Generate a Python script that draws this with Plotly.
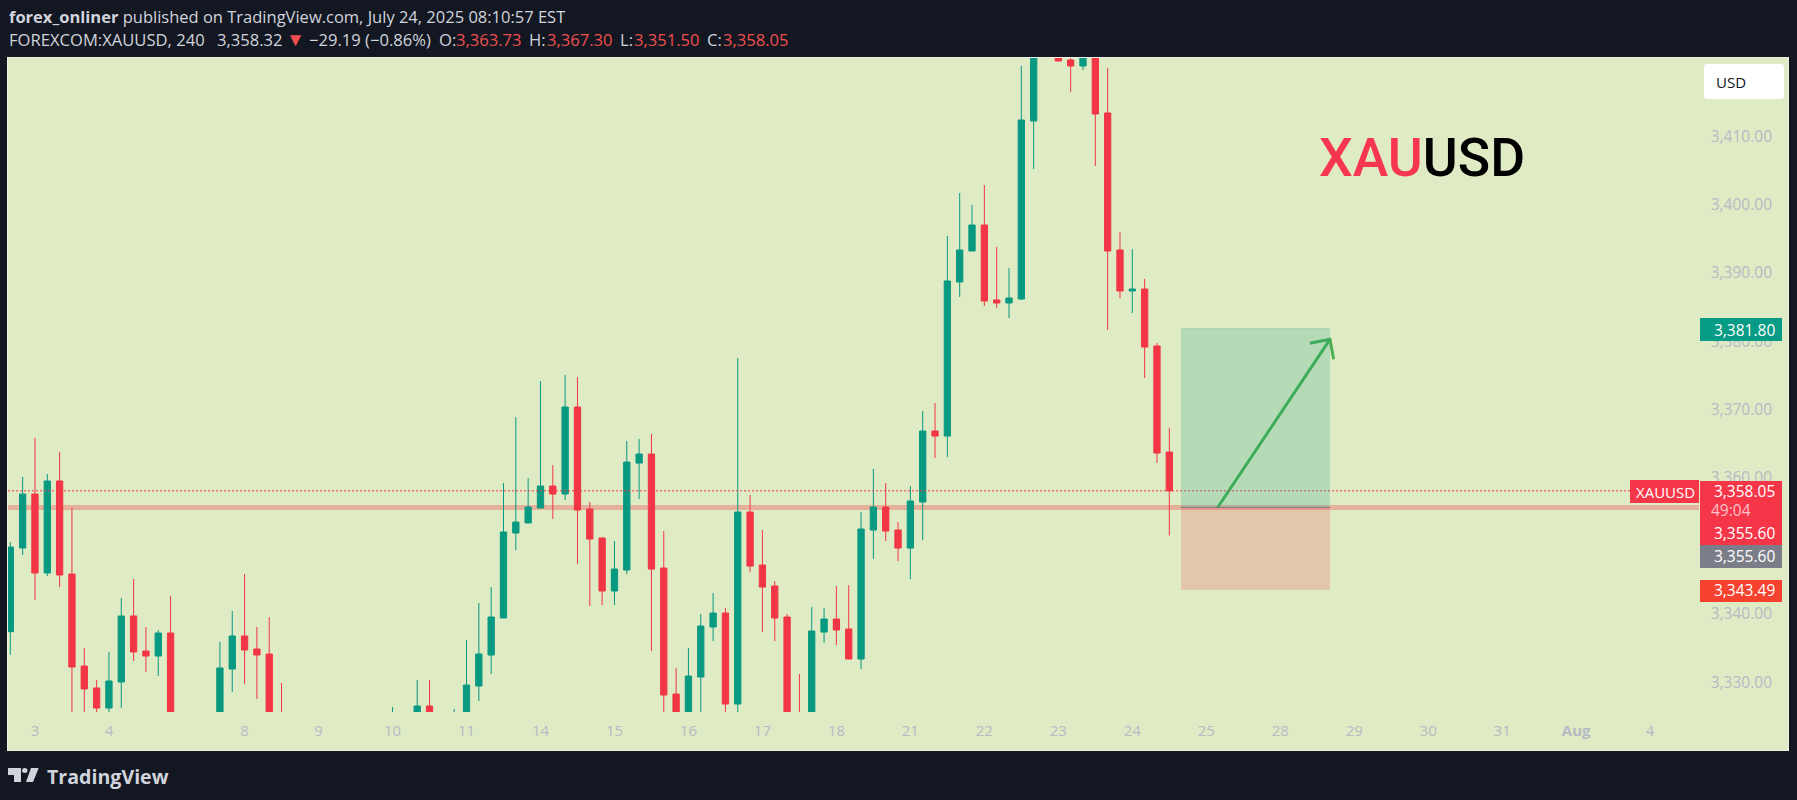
import plotly.graph_objects as go

# 4h bars of FOREXCOM:XAUUSD, bars that sit entirely below the pane are left out
bar_index = [0, 1, 2, 3, 4, 5, 6, 7, 8, 9, 10, 11, 12, 13,
             17, 18, 19, 20, 21, 22, 31, 33, 34,
             36, 37, 38, 39, 40, 41, 42, 43, 44, 45, 46, 47, 48, 49, 50, 51, 52, 53, 54, 55, 56, 57, 58, 59, 60,
             61, 62, 63, 64, 65, 66, 67, 68, 69, 70, 71, 72, 73, 74, 75, 76, 77, 78, 79, 80, 81, 82, 83, 84,
             85, 86, 87, 88, 89, 90, 91, 92, 93, 94]
opens = [3337.4, 3349.67, 3357.58, 3346.0, 3359.49, 3345.85, 3332.36, 3329.14, 3326.2, 3330.02, 3339.7, 3334.56, 3333.83, 3337.2,
         3322, 3331.92, 3336.76, 3334.86, 3334.12, 3324, 3322, 3322, 3326.5,
         3322, 3322, 3329.43, 3333.97, 3339.4, 3351.86, 3353.33, 3355.53, 3358.75, 3357.58, 3370.34, 3355.38, 3351.13, 3343.36, 3346.44, 3362.12, 3363.44, 3346.73, 3328.25, 3322, 3330.75, 3338.08, 3340.13, 3326.79, 3354.94,
         3347.17, 3344.09, 3339.54, 3324, 3322, 3337.34, 3339.25, 3337.79, 3333.39, 3352.3, 3355.67, 3352.3, 3349.66, 3356.41, 3366.82, 3366.08, 3388.67, 3393.21, 3397.02, 3386.03, 3385.59, 3386.17, 3412.27, 3423,
         3423, 3421.22, 3420.34, 3424, 3413.45, 3393.36, 3387.35, 3387.64, 3379.28, 3363.73]
highs = [3350.55, 3360.08, 3365.8, 3360.52, 3363.74, 3355.53, 3335.0, 3330.31, 3334.42, 3342.34, 3345.12, 3338.08, 3337.64, 3342.63,
         3335.88, 3340.43, 3345.85, 3338.08, 3339.55, 3329.87, 3326.35, 3330.31, 3330.31,
         3326.05, 3336.17, 3341.6, 3343.94, 3359.19, 3368.87, 3359.92, 3374.15, 3361.83, 3375.03, 3374.73, 3356.41, 3351.27, 3350.69, 3365.35, 3365.64, 3366.38, 3352.15, 3332.07, 3334.98, 3339.98, 3343.06, 3340.86, 3377.52, 3357.43,
         3352.3, 3344.82, 3339.98, 3331.19, 3341.01, 3340.86, 3344.09, 3344.24, 3354.94, 3361.25, 3359.19, 3353.47, 3358.75, 3369.75, 3370.92, 3395.41, 3401.72, 3399.96, 3402.89, 3393.8, 3390.72, 3420.34, 3426, 3432,
         3425, 3421.6, 3424, 3426, 3420.04, 3396.0, 3393.5, 3389.1, 3379.72, 3367.3]
lows = [3334.0, 3348.64, 3342.04, 3345.56, 3343.95, 3322, 3324, 3325, 3325, 3326.2, 3333.1, 3331.48, 3330.9, 3320,
        3320, 3328.55, 3329.72, 3327.53, 3320, 3320, 3320, 3320, 3320,
        3320, 3320, 3327.23, 3331.19, 3339.4, 3349.37, 3353.33, 3355.53, 3353.91, 3356.7, 3347.3, 3341.16, 3341.3, 3341.3, 3345.85, 3356.85, 3334.56, 3324, 3322, 3322, 3324, 3336.02, 3324, 3324, 3346.14,
        3337.34, 3336.02, 3322, 3320, 3320, 3335.73, 3335.44, 3333.39, 3331.92, 3348.05, 3350.69, 3347.75, 3345.1, 3350.83, 3362.86, 3363.0, 3386.47, 3393.21, 3385.15, 3384.85, 3383.39, 3386.03, 3405.23, 3422,
        3421.07, 3416.53, 3419.75, 3405.68, 3381.63, 3386.32, 3384.12, 3374.59, 3362.12, 3351.5]
closes = [3349.8, 3357.58, 3346.0, 3359.49, 3345.71, 3332.22, 3329.0, 3326.2, 3330.17, 3339.7, 3334.42, 3333.83, 3337.2, 3322,
          3332.07, 3336.76, 3334.71, 3333.98, 3322, 3322, 3324, 3326.5, 3322,
          3324, 3329.57, 3334.12, 3339.54, 3352.01, 3353.47, 3355.67, 3358.75, 3357.58, 3370.34, 3355.23, 3350.98, 3343.36, 3346.58, 3362.27, 3363.44, 3346.58, 3328.11, 3322, 3330.89, 3338.22, 3340.13, 3326.79, 3354.94, 3347.02,
          3343.94, 3339.4, 3322, 3322, 3337.49, 3339.25, 3337.64, 3333.39, 3352.45, 3355.67, 3352.15, 3349.66, 3356.55, 3366.82, 3366.08, 3388.81, 3393.36, 3397.02, 3385.88, 3385.59, 3386.32, 3412.42, 3430, 3430,
          3421.07, 3420.34, 3423, 3413.3, 3393.21, 3387.35, 3387.64, 3379.13, 3363.59, 3358.05]

date_ticks = [2, 8, 19, 25, 31, 37, 43, 49, 55, 61, 67, 73, 79, 85, 91, 97, 103, 109, 115, 121, 127, 133]
date_labels = ['3', '4', '8', '9', '10', '11', '14', '15', '16', '17', '18', '21', '22', '23', '24', '25', '28',
               '29', '30', '31', '<b>Aug</b>', '4']
price_ticks = [3330, 3340, 3350, 3360, 3370, 3380, 3390, 3400, 3410, 3420]

last_price = 3358.05
level_price = 3355.60
target_price = 3381.80
stop_price = 3343.49

# long position tool and the arrow drawn on it (bar number, price)
tool_bars = [94.95, 107.03]
arrow_x = [97.92, 107.03, None, 105.41, 107.03, 107.33]
arrow_y = [3355.6, 3380.26, None, 3379.68, 3380.26, 3377.33]

BG = '#131722'
PANE = '#dfebc4'
GREEN = '#089981'
RED = '#f23645'
TEXT = '#d1d4dc'
QUOTE_RED = '#ef4f4f'
AXIS_TEXT = '#b6bac6'
FONT = 'Open Sans'


# pixel position on the page -> paper coordinate of the plot area
def px_x(x):
    return (x - 8) / 1780


def px_y(y):
    return (712 - y) / 654


def box(x0, y0, x1, y1, color, layer='above'):
    return dict(type='rect', xref='paper', yref='paper', x0=px_x(x0), x1=px_x(x1), y0=px_y(y0), y1=px_y(y1),
                fillcolor=color, line_width=0, layer=layer)


def poly(points, color):
    path = 'M' + ' L'.join(f'{px_x(x):.5f},{px_y(y):.5f}' for x, y in points) + ' Z'
    return dict(type='path', xref='paper', yref='paper', path=path, fillcolor=color, line_width=0, layer='above')


def label(x, y, text, size=15.5, color='white', anchor='left', family=FONT, **kw):
    return dict(xref='paper', yref='paper', x=px_x(x), y=px_y(y), text=text, showarrow=False, xanchor=anchor,
                yanchor='middle', font=dict(family=family, size=size, color=color, **kw), borderpad=0, borderwidth=0)


fig = go.Figure()

fig.add_trace(go.Candlestick(
    x=bar_index, open=opens, high=highs, low=lows, close=closes,
    increasing=dict(line=dict(color=GREEN, width=1), fillcolor=GREEN),
    decreasing=dict(line=dict(color=RED, width=1), fillcolor=RED),
    whiskerwidth=0,
    hoverinfo='skip',
    showlegend=False,
))

fig.add_trace(go.Scatter(x=arrow_x, y=arrow_y, mode='lines', line=dict(color='#4caf50', width=3),
                         hoverinfo='skip', showlegend=False))

# currency button, corners rounded by hand
usd_button = ('M{a},{t} L{b},{t} Q{r},{t} {r},{u} L{r},{v} Q{r},{d} {b},{d} L{a},{d} Q{l},{d} {l},{v} '
              'L{l},{u} Q{l},{t} {a},{t} Z').format(
    l=px_x(1704), a=px_x(1707), b=px_x(1781), r=px_x(1784),
    t=px_y(64), u=px_y(67), v=px_y(96), d=px_y(99))

shapes = [
    # pane, the white edge is a slightly bigger box behind it
    box(7, 57, 1789, 751, '#eef0e8', 'below'),
    box(8, 58, 1788, 750, PANE, 'below'),
    # support line and the last price line
    dict(type='line', xref='paper', yref='y', x0=0, x1=px_x(1699), y0=level_price, y1=level_price,
         line=dict(color='#e5b19b', width=5), layer='below'),
    dict(type='line', xref='paper', yref='y', x0=0, x1=px_x(1630), y0=last_price, y1=last_price,
         line=dict(color=RED, width=1, dash='2px,2px'), layer='above'),
    # long position tool
    dict(type='rect', xref='x', yref='y', x0=tool_bars[0], x1=tool_bars[1], y0=level_price, y1=target_price,
         fillcolor='rgba(8,153,129,0.2)', line_width=0, layer='above'),
    dict(type='rect', xref='x', yref='y', x0=tool_bars[0], x1=tool_bars[1], y0=stop_price, y1=level_price,
         fillcolor='rgba(242,54,69,0.2)', line_width=0, layer='above'),
    dict(type='line', xref='x', yref='y', x0=tool_bars[0], x1=tool_bars[1], y0=level_price, y1=level_price,
         line=dict(color='#7b7d88', width=1), layer='above'),
    dict(type='line', xref='x', yref='y', x0=tool_bars[0], x1=tool_bars[1], y0=target_price, y1=target_price,
         line=dict(color='#9fd0a8', width=1), layer='above'),
    # price tags
    box(1700, 318, 1782, 341, '#069b85'),
    box(1630, 480, 1699, 503, '#f53649'),
    box(1700, 481, 1782, 545, '#f53649'),
    box(1700, 545, 1782, 568, '#7b7d88'),
    box(1700, 580, 1782, 602, '#f7412f'),
    dict(type='path', xref='paper', yref='paper', path=usd_button, fillcolor='white', line_width=0, layer='above'),
    # TradingView mark
    poly([(8, 768), (21, 768), (21, 782), (14, 782), (14, 775), (8, 775)], TEXT),
    poly([(31, 768), (38.7, 768), (33, 782), (26, 782)], TEXT),
    dict(type='circle', xref='paper', yref='paper', x0=px_x(22), x1=px_x(27.5), y0=px_y(768), y1=px_y(773),
         fillcolor=TEXT, line_width=0, layer='above'),
]

annotations = [
    label(8.5, 17, '<b>forex_onliner</b> published on TradingView.com, July 24, 2025 08:10:57 EST', 16.5, TEXT),
    label(8.5, 39.5, 'FOREXCOM:XAUUSD, 240', 16.6, TEXT),
    label(217, 39.5, '3,358.32', 16.6, TEXT),
    label(286, 39.5, '▼', 19, QUOTE_RED),
    label(309, 39.5, '−29.19 (−0.86%)', 16.6, TEXT),
    label(439, 39.5, 'O:', 16.6, TEXT),
    label(456, 39.5, '3,363.73', 16.6, QUOTE_RED),
    label(529, 39.5, 'H:', 16.6, TEXT),
    label(547, 39.5, '3,367.30', 16.6, QUOTE_RED),
    label(620, 39.5, 'L:', 16.6, TEXT),
    label(634, 39.5, '3,351.50', 16.6, QUOTE_RED),
    label(707, 39.5, 'C:', 16.6, TEXT),
    label(723, 39.5, '3,358.05', 16.6, QUOTE_RED),
    label(1319, 157, '<span style="color:#f7374f">XAU</span>USD', 53.5, 'black', family='Roboto', weight=500),
    label(1716, 81.5, 'USD', 15, BG),
    label(1774.5, 329.5, '3,381.80', anchor='right'),
    label(1636, 491.5, 'XAUUSD', 15),
    label(1774.5, 491, '3,358.05', anchor='right'),
    label(1711, 510, '49:04', color='#fbc3ca'),
    label(1774.5, 533, '3,355.60', anchor='right'),
    label(1774.5, 556, '3,355.60', anchor='right'),
    label(1774.5, 590, '3,343.49', anchor='right'),
    label(46.5, 776, '<b>TradingView</b>', 19.6, TEXT),
]

fig.update_layout(
    width=1797,
    height=800,
    margin=dict(l=8, r=9, t=58, b=88),
    paper_bgcolor=BG,
    plot_bgcolor='rgba(0,0,0,0)',
    boxgap=0.27,
    showlegend=False,
    shapes=shapes,
    annotations=annotations,
    xaxis=dict(
        range=[-0.187, 144.18],
        rangeslider=dict(visible=False),
        tickmode='array',
        tickvals=date_ticks,
        ticktext=date_labels,
        tickfont=dict(family=FONT, size=15, color=AXIS_TEXT),
        ticks='',
        ticklabelstandoff=8,
        showgrid=False,
        zeroline=False,
    ),
    yaxis=dict(
        range=[3325.62, 3421.51],
        side='right',
        tickmode='array',
        tickvals=price_ticks,
        tickformat=',.2f',
        ticklabelposition='inside',
        ticklabelstandoff=13,
        tickfont=dict(family=FONT, size=15.5, color=AXIS_TEXT),
        ticks='',
        showgrid=False,
        zeroline=False,
    ),
)

# the browser's default body margin would push the figure 8px off the page corner
fig.write_html("out.html", config={'displayModeBar': False},
               post_script="document.body.style.margin='0';document.body.style.background='#131722';")
